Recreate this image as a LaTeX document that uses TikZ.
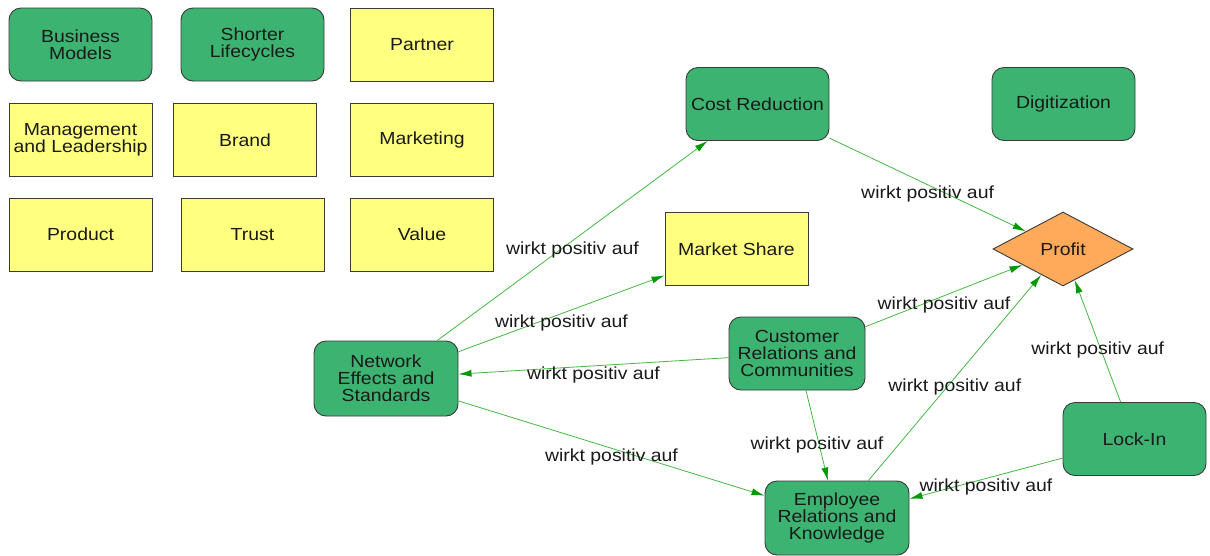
\documentclass[tikz,border=0pt]{standalone}
\usepackage{fontspec}
\setmainfont{Liberation Sans}[FakeStretch=1.11]
\usetikzlibrary{shapes.geometric,arrows.meta}
\definecolor{boxgreen}{HTML}{3CB371}
\definecolor{noteyellow}{HTML}{FFFF80}
\definecolor{profitorange}{HTML}{FFAA5A}
\definecolor{edgegreen}{HTML}{44B844}
\definecolor{tipgreen}{HTML}{009900}
\definecolor{rim}{HTML}{3A3A3A}
\definecolor{ink}{HTML}{1A1A1A}

\begin{document}
\begin{tikzpicture}[x=1pt,y=-1pt,
  base/.style={draw=rim, line width=0.9pt, minimum width=143pt, minimum height=73pt,
    inner sep=0pt, align=center, text=ink, font=\fontsize{17.5}{17}\selectfont},
  topic/.style={base, fill=boxgreen, rounded corners=12pt},
  note/.style={base, fill=noteyellow},
  goal/.style={base, diamond, fill=profitorange, minimum width=140pt, minimum height=74pt},
  link/.style={draw=edgegreen, line width=0.8pt, -{Latex[length=13pt,width=7pt,color=tipgreen]}},
  tag/.style={midway, yshift=-9pt, text=ink, font=\fontsize{17.5}{17}\selectfont, inner sep=0pt}]

\useasboundingbox[fill=white] (0,0) rectangle (1210,555);

% unlinked concepts
\node[topic] (bm)   at (80.5,44.5)  {Business\\Models};
\node[topic] (slc)  at (252.5,44.5) {Shorter\\Lifecycles};
\node[note]  (part) at (422,44.5)   {Partner};
\node[note]  (mgmt) at (80.5,140)   {Management\\and Leadership};
\node[note]  (brand) at (245,140)   {Brand};
\node[note]  (mkt)  at (422,140)    {Marketing};
\node[note]  (prod) at (80.5,234.5) {Product};
\node[note]  (trust) at (252.5,234.5) {Trust};
\node[note]  (val)  at (422,234.5)  {Value};
\node[topic] (dig)  at (1063.5,104) {Digitization};

% linked concepts
\node[topic] (cost) at (757.5,104)  {Cost Reduction};
\node[note]  (share) at (736.5,249) {Market Share};
\node[goal]  (profit) at (1063,249) {Profit};
\node[topic, minimum width=136pt] (cust) at (797,353.5) {Customer\\Relations and\\Communities};
\node[topic, minimum width=144pt, minimum height=75pt] (net) at (386,378.5) {Network\\Effects and\\Standards};
\node[topic, minimum width=144pt, minimum height=74pt] (emp) at (837,518) {Employee\\Relations and\\Knowledge};
\node[topic] (lock) at (1134.5,439) {Lock-In};

% influences
\draw[link] (net)  -- (cost)   node[tag] {wirkt positiv auf};
\draw[link] (net)  -- (share)  node[tag] {wirkt positiv auf};
\draw[link] (cust) -- (net)    node[tag] {wirkt positiv auf};
\draw[link] (net)  -- (emp)    node[tag] {wirkt positiv auf};
\draw[link] (cust) -- (emp)    node[tag] {wirkt positiv auf};
\draw[link] (cust) -- (profit) node[tag] {wirkt positiv auf};
\draw[link] (emp)  -- (profit) node[tag] {wirkt positiv auf};
\draw[link] (lock) -- (profit) node[tag] {wirkt positiv auf};
\draw[link] (lock) -- (emp)    node[tag] {wirkt positiv auf};
\draw[link] (cost) -- (profit) node[tag] {wirkt positiv auf};
\end{tikzpicture}
\end{document}
